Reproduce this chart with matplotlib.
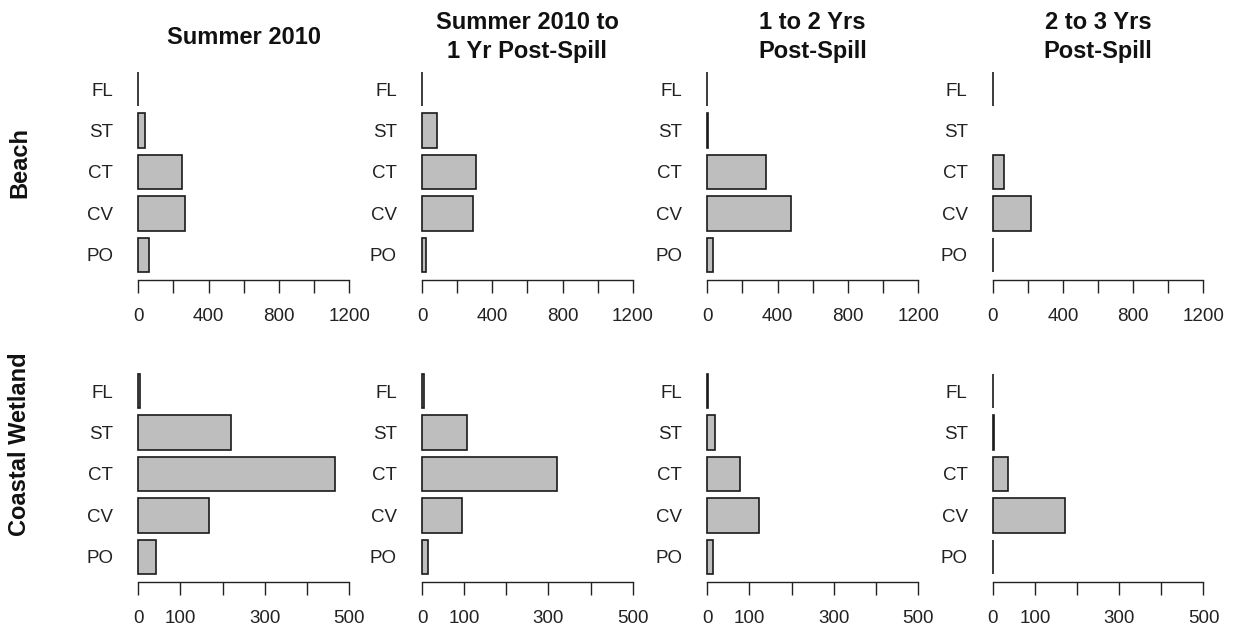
import numpy as np
import matplotlib
matplotlib.use('Agg')
import matplotlib.pyplot as plt

# Categories listed bottom to top (PO at the bottom, FL on top)
categories = ['PO', 'CV', 'CT', 'ST', 'FL']

period_titles = ['Summer 2010',
                 'Summer 2010 to\n1 Yr Post-Spill',
                 '1 to 2 Yrs\nPost-Spill',
                 '2 to 3 Yrs\nPost-Spill']

habitats = ['Beach', 'Coastal Wetland']

# Beach values per period (order PO, CV, CT, ST, FL)
beach_summer2010 = [59, 266, 249, 36, 0]
beach_to_1yr = [23, 288, 309, 83, 0]
beach_1to2yr = [30, 476, 336, 6, 0]
beach_2to3yr = [3, 220, 66, np.nan, 0]

# Coastal wetland values per period (order PO, CV, CT, ST, FL)
wetland_summer2010 = [43, 168, 467, 220, 5]
wetland_to_1yr = [13, 95, 320, 107, 5]
wetland_1to2yr = [13, 122, 77, 19, 2]
wetland_2to3yr = [1, 171, 37, 2, 0]

# Axis ticks and labels per row
beach_ticks = [0, 200, 400, 600, 800, 1000, 1200]
beach_ticklabels = ['0', '', '400', '', '800', '', '1200']
wetland_ticks = [0, 100, 200, 300, 400, 500]
wetland_ticklabels = ['0', '100', '', '300', '', '500']


def draw_panel(ax, values, ticks, ticklabels):
    """Draw one horizontal barplot in base-R style"""
    values = np.asarray(values, dtype=float)
    pos = 0.7 + 1.2 * np.arange(len(categories))
    mask = ~np.isnan(values)
    ax.barh(pos[mask], values[mask], height=1.0, color='#bebebe',
            edgecolor='#1a1a1a', linewidth=1.2)

    xmax = ticks[-1]
    ax.set_xlim(-0.04 * xmax, 1.04 * xmax)
    ax.set_ylim(-0.032, 6.232)

    ax.set_yticks(pos)
    ax.set_yticklabels(categories, fontsize=13.5, color='#222222')
    ax.tick_params(axis='y', length=0, pad=12)

    ax.set_xticks(ticks)
    ax.set_xticklabels(ticklabels, fontsize=13.5, color='#222222')
    ax.tick_params(axis='x', length=9.5, width=1.0, pad=10.5, color='#222222')

    for side in ['top', 'right', 'left']:
        ax.spines[side].set_visible(False)
    ax.spines['bottom'].set_bounds(0, xmax)
    ax.spines['bottom'].set_color('#222222')
    ax.spines['bottom'].set_linewidth(1.0)
    ax.patch.set_visible(False)


def main():
    plt.rcParams['font.family'] = ['Liberation Sans', 'DejaVu Sans']

    W, H = 1234, 634
    fig = plt.figure(figsize=(W / 100, H / 100), dpi=100)

    beach_rows = [beach_summer2010, beach_to_1yr, beach_1to2yr, beach_2to3yr]
    wetland_rows = [wetland_summer2010, wetland_to_1yr, wetland_1to2yr, wetland_2to3yr]

    # Pixel layout of plot regions
    lefts = [129.9, 413.6, 698.9, 984.3]
    width = 227.6
    row_tops = [64, 366]
    height = 216

    for j in range(4):
        for i, (rows, ticks, labels) in enumerate([
                (beach_rows, beach_ticks, beach_ticklabels),
                (wetland_rows, wetland_ticks, wetland_ticklabels)]):
            ax = fig.add_axes([lefts[j] / W, 1 - (row_tops[i] + height) / H,
                               width / W, height / H])
            draw_panel(ax, rows[j], ticks, labels)

        # Column title centred over the plot region
        fig.text((lefts[j] + width / 2) / W, 1 - 37 / H, period_titles[j],
                 ha='center', va='center', fontsize=17, fontweight='bold',
                 linespacing=1.35, color='#111111')

    # Row labels
    fig.text(20 / W, 1 - 162 / H, habitats[0], rotation=90, ha='center',
             va='center', fontsize=17, fontweight='bold', color='#111111')
    fig.text(20 / W, 1 - 444 / H, habitats[1], rotation=90, ha='center',
             va='center', fontsize=17, fontweight='bold', color='#111111')

    fig.savefig('out.png', dpi=100)


if __name__ == "__main__":
    main()
